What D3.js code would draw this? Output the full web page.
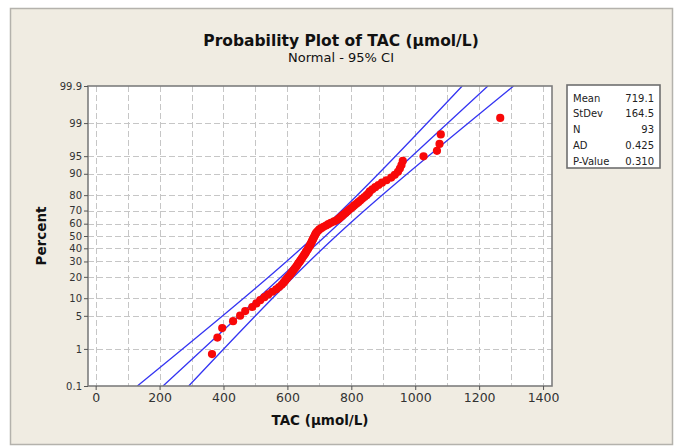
<!DOCTYPE html>
<html>
<head>
<meta charset="utf-8">
<script src="https://cdn.jsdelivr.net/npm/d3@7"></script>
<style>
  html, body { margin: 0; padding: 0; background: #fff; }
  svg { display: block; }
  text { font-family: "DejaVu Sans", sans-serif; }
</style>
</head>
<body>
<svg id="chart" width="678" height="446"></svg>
<script>
// sorted TAC values (n = 93)
const tacValues = [
  364, 381, 396, 430, 452, 468, 490, 503, 515, 528,
  540, 553, 565, 574, 582, 588, 593, 598, 603, 608,
  612, 616, 620, 624, 628, 631, 634, 638, 641, 644,
  647, 650, 653, 656, 658, 661, 664, 666, 669, 671,
  673, 675, 677, 679, 681, 683, 685, 687, 689, 692,
  696, 700, 706, 713, 721, 728, 736, 746, 755, 761,
  766, 771, 776, 782, 787, 792, 798, 804, 809, 816,
  822, 828, 834, 841, 848, 854, 858, 866, 875, 885,
  896, 910, 925, 936, 946, 952, 957, 961, 1026, 1068,
  1076, 1080, 1266
]
const statLabels = ["Mean", "StDev", "N", "AD", "P-Value"]
const statValues = ["719.1", "164.5", "93", "0.425", "0.310"]
const fitMean = 719.1
const fitSd = 164.5
const fitN = 93
const percentTicks = [0.1, 1, 5, 10, 20, 30, 40, 50, 60, 70, 80, 90, 95, 99, 99.9]
const xTicks = [0, 200, 400, 600, 800, 1000, 1200, 1400]

// inverse normal cdf (Acklam)
function qnorm(p) {
  const a = [-3.969683028665376e+01, 2.209460984245205e+02, -2.759285104469687e+02, 1.383577518672690e+02, -3.066479806614716e+01, 2.506628277459239e+00]
  const b = [-5.447609879822406e+01, 1.615858368580409e+02, -1.556989798598866e+02, 6.680131188771972e+01, -1.328068155288572e+01]
  const c = [-7.784894002430293e-03, -3.223964580411365e-01, -2.400758277161838e+00, -2.549732539343734e+00, 4.374664141464968e+00, 2.938163982698783e+00]
  const d = [7.784695709041462e-03, 3.224671290700398e-01, 2.445134137142996e+00, 3.754408661907416e+00]
  const pl = 0.02425
  let q, r
  if (p < pl) {
    q = Math.sqrt(-2 * Math.log(p))
    return (((((c[0]*q+c[1])*q+c[2])*q+c[3])*q+c[4])*q+c[5]) / ((((d[0]*q+d[1])*q+d[2])*q+d[3])*q+1)
  }
  if (p > 1 - pl) {
    q = Math.sqrt(-2 * Math.log(1 - p))
    return -(((((c[0]*q+c[1])*q+c[2])*q+c[3])*q+c[4])*q+c[5]) / ((((d[0]*q+d[1])*q+d[2])*q+d[3])*q+1)
  }
  q = p - 0.5
  r = q * q
  return (((((a[0]*r+a[1])*r+a[2])*r+a[3])*r+a[4])*r+a[5])*q / (((((b[0]*r+b[1])*r+b[2])*r+b[3])*r+b[4])*r+1)
}

const svg = d3.select("#chart")
const plot = {left: 88, top: 86, right: 552, bottom: 386}

// figure frame
svg.append("rect")
  .attr("x", 10.5).attr("y", 8.5)
  .attr("width", 662).attr("height", 436)
  .attr("fill", "#f0ece2")
  .attr("stroke", "#b4b2ac")
  .attr("stroke-width", 1.5)

const zMax = qnorm(0.999)
const x = d3.scaleLinear().domain([-24, 1428]).range([plot.left, plot.right])
const y = d3.scaleLinear().domain([-zMax, zMax]).range([plot.bottom, plot.top])

svg.append("rect")
  .attr("x", plot.left).attr("y", plot.top)
  .attr("width", plot.right - plot.left).attr("height", plot.bottom - plot.top)
  .attr("fill", "#fff")

// grid
const grid = svg.append("g")
  .attr("stroke", "#c6c6c6")
  .attr("stroke-width", 1)
  .attr("stroke-dasharray", "6,3")
grid.selectAll("line.v")
  .data(d3.range(0, 1401, 100))
  .join("line")
  .attr("class", "v")
  .attr("x1", (d) => Math.round(x(d)) + 0.5).attr("x2", (d) => Math.round(x(d)) + 0.5)
  .attr("y1", plot.top).attr("y2", plot.bottom)
grid.selectAll("line.h")
  .data(percentTicks.slice(1, -1))
  .join("line")
  .attr("class", "h")
  .attr("y1", (d) => Math.round(y(qnorm(d / 100))) + 0.5)
  .attr("y2", (d) => Math.round(y(qnorm(d / 100))) + 0.5)
  .attr("x1", plot.left).attr("x2", plot.right)

// fitted line and 95% CI
const zs = d3.range(-zMax, zMax + 1e-9, zMax / 60)
const half = (z) => 1.96 * fitSd / Math.sqrt(fitN) * Math.sqrt(1 + z * z / 2)
const lineGen = (fn) => d3.line().x((z) => x(fn(z))).y((z) => y(z))(zs)

svg.append("clipPath").attr("id", "clip")
  .append("rect")
  .attr("x", plot.left).attr("y", plot.top)
  .attr("width", plot.right - plot.left).attr("height", plot.bottom - plot.top)

const fitG = svg.append("g").attr("clip-path", "url(#clip)")
const curves = [
  (z) => fitMean + z * fitSd,
  (z) => fitMean + z * fitSd - half(z),
  (z) => fitMean + z * fitSd + half(z),
]
fitG.selectAll("path")
  .data(curves)
  .join("path")
  .attr("d", (fn) => lineGen(fn))
  .attr("fill", "none")
  .attr("stroke", "#3535f2")
  .attr("stroke-width", 1.3)

// points (median ranks)
const n = tacValues.length
fitG.selectAll("circle")
  .data(tacValues)
  .join("circle")
  .attr("cx", (d) => x(d))
  .attr("cy", (d, i) => y(qnorm((i + 1 - 0.3) / (n + 0.4))))
  .attr("r", 4.1)
  .attr("fill", "#f80808")

// plot border
svg.append("rect")
  .attr("x", plot.left).attr("y", plot.top)
  .attr("width", plot.right - plot.left).attr("height", plot.bottom - plot.top)
  .attr("fill", "none")
  .attr("stroke", "#7d7d7d")
  .attr("stroke-width", 1.6)

// axes
const xAxis = d3.axisBottom(x).tickValues(xTicks).tickFormat(d3.format("d")).tickSize(4).tickPadding(3)
svg.append("g")
  .attr("transform", `translate(0,${plot.bottom})`)
  .call(xAxis)
  .call((g) => g.select(".domain").remove())
  .call((g) => g.selectAll("line").attr("stroke", "#555"))
  .call((g) => g.selectAll("text").attr("font-size", 12.5).attr("fill", "#333"))

const yAxis = d3.axisLeft(y)
  .tickValues(percentTicks.map((p) => qnorm(p / 100)))
  .tickFormat((d, i) => String(percentTicks[i]))
  .tickSize(4).tickPadding(2)
svg.append("g")
  .attr("transform", `translate(${plot.left},0)`)
  .call(yAxis)
  .call((g) => g.select(".domain").remove())
  .call((g) => g.selectAll("line").attr("stroke", "#555"))
  .call((g) => g.selectAll("text").attr("font-size", 10).attr("fill", "#333"))

// titles
svg.append("text")
  .attr("x", 341).attr("y", 46)
  .attr("text-anchor", "middle")
  .attr("font-size", 15.5).attr("font-weight", "bold").attr("fill", "#111")
  .text("Probability Plot of TAC (µmol/L)")
svg.append("text")
  .attr("x", 341).attr("y", 62)
  .attr("text-anchor", "middle")
  .attr("font-size", 13).attr("fill", "#111")
  .text("Normal - 95% CI")
svg.append("text")
  .attr("x", 320).attr("y", 425)
  .attr("text-anchor", "middle")
  .attr("font-size", 13.5).attr("font-weight", "bold").attr("fill", "#111")
  .text("TAC (µmol/L)")
svg.append("text")
  .attr("transform", `translate(46,${y(0)}) rotate(-90)`)
  .attr("text-anchor", "middle")
  .attr("font-size", 13.5).attr("font-weight", "bold").attr("fill", "#111")
  .text("Percent")

// stats box
const box = {x: 567, y: 85, w: 93, h: 83}
svg.append("rect")
  .attr("x", box.x).attr("y", box.y).attr("width", box.w).attr("height", box.h)
  .attr("fill", "#fff").attr("stroke", "#6f6f6f").attr("stroke-width", 1.6)
const rowY = d3.scalePoint().domain(statLabels).range([box.y + 13, box.y + 76])
svg.append("g").selectAll("text")
  .data(statLabels)
  .join("text")
  .attr("x", box.x + 6).attr("y", (d) => rowY(d) + 3.5)
  .attr("font-size", 10).attr("fill", "#222")
  .text((d) => d)
svg.append("g").selectAll("text")
  .data(statValues)
  .join("text")
  .attr("x", box.x + box.w - 6).attr("y", (d, i) => rowY(statLabels[i]) + 3.5)
  .attr("text-anchor", "end")
  .attr("font-size", 10).attr("fill", "#222")
  .text((d) => d)
</script>
</body>
</html>
